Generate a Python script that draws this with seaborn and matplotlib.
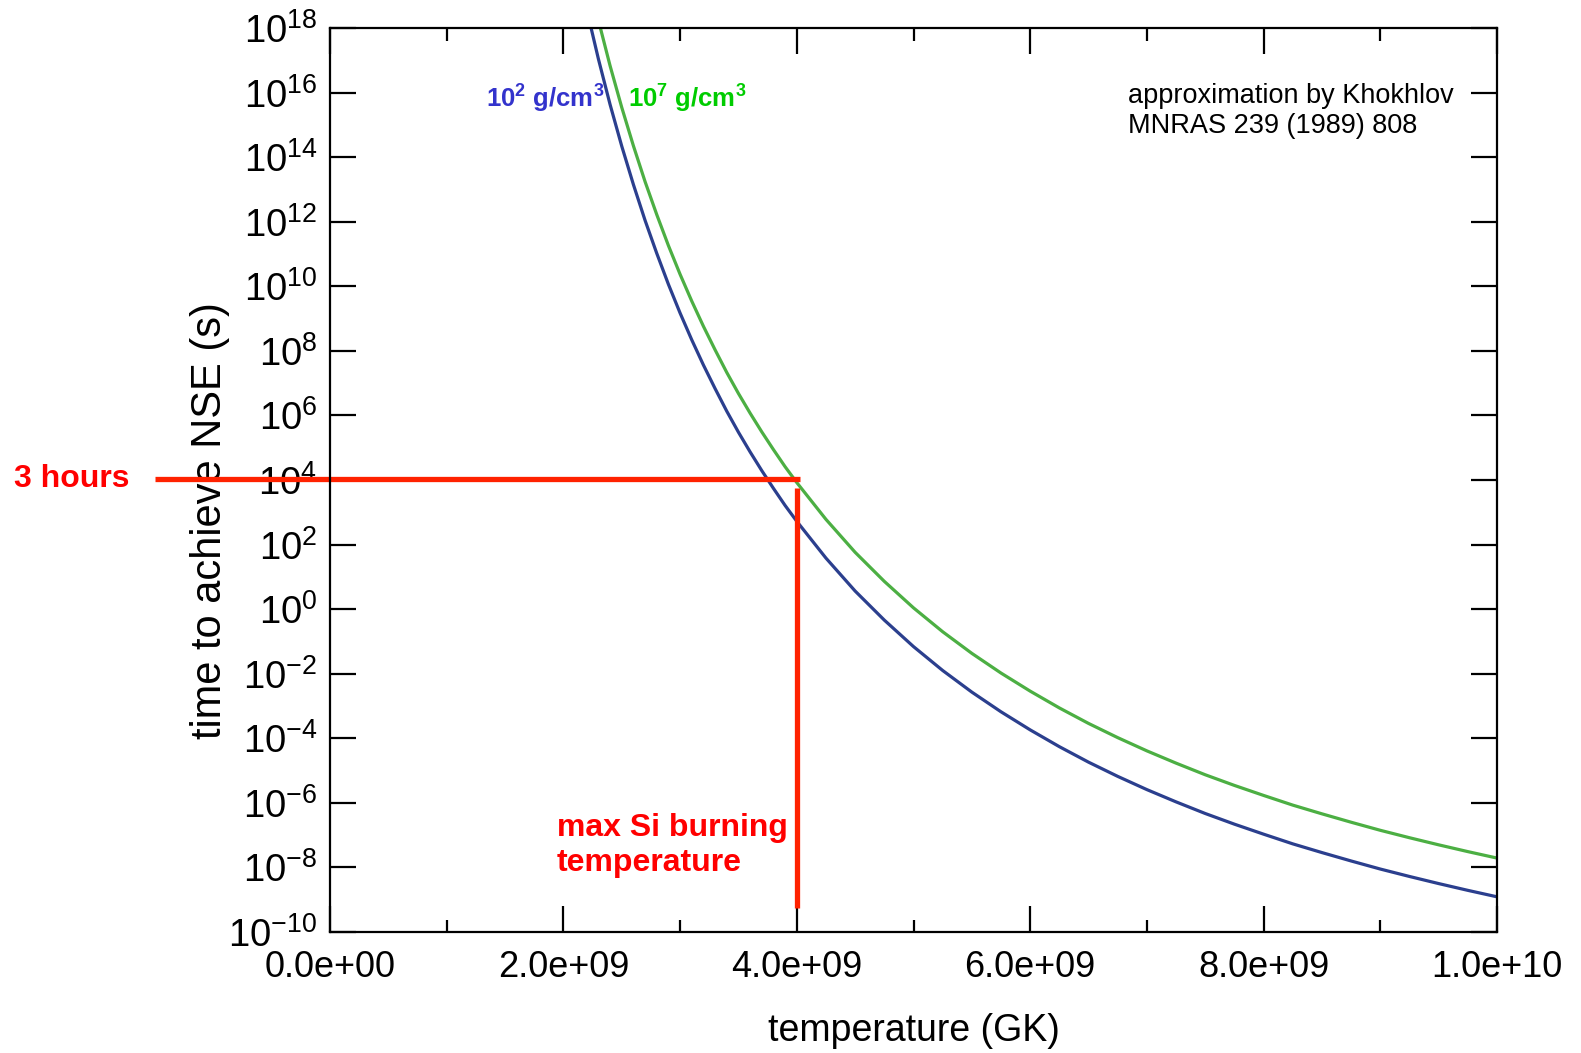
import numpy as np
import pandas as pd
import matplotlib
matplotlib.use("Agg")
import matplotlib.pyplot as plt
from matplotlib.ticker import FixedLocator, FuncFormatter, MultipleLocator
import seaborn as sns

# temperature grid (GK) and log10 of time to NSE (s)
temperature_gk = [2.2, 2.3, 2.4, 2.5, 2.6, 2.7, 2.8, 2.9, 3.0, 3.1, 3.2, 3.3, 3.4, 3.5,
                  3.6, 3.7, 3.8, 3.9, 4.0, 4.25, 4.5, 4.75, 5.0, 5.25, 5.5, 5.75, 6.0,
                  6.25, 6.5, 6.75, 7.0, 7.25, 7.5, 7.75, 8.0, 8.25, 8.5, 8.75, 9.0,
                  9.25, 9.5, 9.75, 10.0]
log_t_rho2 = [18.57, 17.04, 15.63, 14.34, 13.15, 12.04, 11.02, 10.06, 9.17, 8.34,
              7.56, 6.83, 6.13, 5.48, 4.87, 4.29, 3.74, 3.21, 2.72, 1.58, 0.56,
              -0.34, -1.16, -1.90, -2.57, -3.18, -3.74, -4.26, -4.74, -5.18, -5.59,
              -5.97, -6.33, -6.66, -6.97, -7.27, -7.54, -7.80, -8.05, -8.28, -8.50,
              -8.71, -8.91]
log_t_rho7 = [19.77, 18.24, 16.83, 15.54, 14.35, 13.24, 12.22, 11.26, 10.37, 9.54,
              8.76, 8.03, 7.33, 6.68, 6.07, 5.49, 4.94, 4.41, 3.92, 2.78, 1.76,
              0.86, 0.04, -0.70, -1.37, -1.98, -2.54, -3.06, -3.54, -3.98, -4.39,
              -4.77, -5.13, -5.46, -5.77, -6.07, -6.34, -6.60, -6.85, -7.08, -7.30,
              -7.51, -7.71]

three_hours = 10800.0
si_burn_T = 4.0e9
hline_x = [-1.5e9, 4.03e9]
vline_t = [5.6e3, 5.6e-10]

y_exponents = list(range(-10, 19, 2))

T = np.array(temperature_gk) * 1e9
df = pd.concat([
    pd.DataFrame({"T": T, "t": 10.0 ** np.array(log_t_rho2), "rho": "1e2"}),
    pd.DataFrame({"T": T, "t": 10.0 ** np.array(log_t_rho7), "rho": "1e7"}),
])

sns.set_theme(style="ticks", rc={"text.color": "black", "axes.labelcolor": "black",
                                 "xtick.color": "black", "ytick.color": "black"})
plt.rcParams["font.family"] = ["Liberation Sans", "DejaVu Sans"]
plt.rcParams["mathtext.fontset"] = "custom"
plt.rcParams["mathtext.rm"] = "Liberation Sans"
plt.rcParams["mathtext.it"] = "Liberation Sans:italic"
plt.rcParams["mathtext.bf"] = "Liberation Sans:bold"

fig = plt.figure(figsize=(15.81, 10.53), dpi=100)
ax = fig.add_axes([330 / 1581, 1 - 932 / 1053, (1497 - 330) / 1581, (932 - 28) / 1053])

sns.lineplot(data=df, x="T", y="t", hue="rho", palette={"1e2": "#2b3f8e", "1e7": "#4caf43"},
             linewidth=2.3, legend=False, ax=ax, sort=False)

ax.set_yscale("log")
ax.set_xlim(0, 1e10)
ax.set_ylim(1e-10, 1e18)

ax.yaxis.set_major_locator(FixedLocator([10.0 ** e for e in y_exponents]))
ax.yaxis.set_minor_locator(FixedLocator([]))
ax.yaxis.set_major_formatter(FuncFormatter(lambda v, p: r"$10^{%d}$" % round(np.log10(v))))
ax.xaxis.set_major_locator(MultipleLocator(2e9))
ax.xaxis.set_minor_locator(MultipleLocator(1e9))
ax.xaxis.set_major_formatter(FuncFormatter(lambda v, p: "%.1e" % v))

ax.tick_params(which="both", direction="in", top=True, right=True, width=1.6, colors="black")
ax.tick_params(which="major", length=19)
ax.tick_params(which="minor", length=9)
ax.tick_params(axis="y", labelsize=27.5, pad=9)
ax.tick_params(axis="x", labelsize=26, pad=13)
for s in ax.spines.values():
    s.set_linewidth(1.6)
    s.set_color("black")

ax.set_xlabel("temperature (GK)", fontsize=27, labelpad=20, color="black")
ax.set_ylabel("time to achieve NSE (s)", fontsize=30, color="black")
ax.yaxis.set_label_coords(-0.086, 0.455)

# red markers: 3 hours and max Si burning temperature
ax.plot(hline_x, [three_hours, three_hours], color="#ff2200", linewidth=3.8, clip_on=False,
        solid_capstyle="butt")
ax.plot([si_burn_T, si_burn_T], vline_t, color="#ff2200", linewidth=3.8, clip_on=False,
        solid_capstyle="butt")
fig.text(14 / 1581, 1 - 479 / 1053, "3 hours", color="#ff0000", fontsize=23,
         fontweight="bold", ha="left", va="center")
ax.text(1.945e9, 10.0 ** -7.33, "max Si burning\ntemperature", color="#ff0000", fontsize=23,
        fontweight="bold", ha="left", va="center", linespacing=1.2)

ax.text(1.34e9, 10.0 ** 15.8, r"$\mathbf{10^{2}\ g/cm^{3}}$", color="#3333cc", fontsize=18.5,
        ha="left", va="center")
ax.text(2.55e9, 10.0 ** 15.8, r"$\mathbf{10^{7}\ g/cm^{3}}$", color="#00cc00", fontsize=18.5,
        ha="left", va="center")
ax.text(6.84e9, 10.0 ** 15.43, "approximation by Khokhlov\nMNRAS 239 (1989) 808", color="black",
        fontsize=19.5, ha="left", va="center", linespacing=1.2)

fig.savefig("out.png", dpi=100)
